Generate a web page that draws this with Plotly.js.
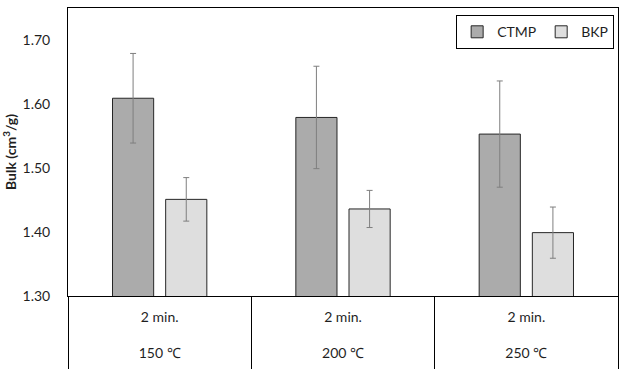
<!DOCTYPE html>
<html>
<head>
<meta charset="utf-8">
<script src="https://cdn.plot.ly/plotly-3.0.1.min.js"></script>
<style>html,body{margin:0;padding:0;background:#fff;}#chart{width:623px;height:373px;}</style>
</head>
<body>
<div id="chart"></div>
<script>
var temperatures = ["150 ℃", "200 ℃", "250 ℃"];
var times = ["2 min.", "2 min.", "2 min."];
var ctmpValues = [1.609, 1.579, 1.553];
var ctmpErrors = [0.070, 0.080, 0.083];
var bkpValues = [1.451, 1.436, 1.399];
var bkpErrors = [0.034, 0.029, 0.040];
var yTicks = [1.30, 1.40, 1.50, 1.60, 1.70];

var fontFam = "Lato, 'Open Sans', sans-serif";
var txtColor = "#1f1f1f";

var xTickText = temperatures.map(function(t, i){ return times[i] + "<br><br>" + t; });

var traces = [
  {
    type: "bar", name: "CTMP",
    x: temperatures, y: ctmpValues,
    marker: {color: "#ababab", line: {color: "#262626", width: 1}},
    error_y: {type: "data", array: ctmpErrors, visible: true, color: "#7f7f7f", thickness: 1, width: 3}
  },
  {
    type: "bar", name: "BKP",
    x: temperatures, y: bkpValues,
    marker: {color: "#dedede", line: {color: "#262626", width: 1}},
    error_y: {type: "data", array: bkpErrors, visible: true, color: "#7f7f7f", thickness: 1, width: 3}
  }
];

var layout = {
  width: 623, height: 373,
  margin: {l: 68, r: 5, t: 8, b: 77},
  paper_bgcolor: "#fff", plot_bgcolor: "#fff",
  font: {family: fontFam, size: 14, color: txtColor},
  barmode: "group",
  bargap: 0.42,
  bargroupgap: 0.226,
  showlegend: true,
  legend: {
    orientation: "h", x: 0.993, xanchor: "right", y: 0.975, yanchor: "top",
    bordercolor: "#000", borderwidth: 1, bgcolor: "#fff",
    font: {family: fontFam, size: 14, color: txtColor},
    itemwidth: 30, traceorder: "normal"
  },
  xaxis: {
    type: "category",
    range: [-0.5, 2.5],
    tickvals: temperatures,
    ticktext: xTickText,
    tickson: "boundaries",
    ticks: "outside", ticklen: 72, tickcolor: "#000", tickwidth: 1,
    ticklabelstandoff: 8,
    showline: true, linecolor: "#000", linewidth: 1, mirror: true,
    showgrid: false,
    tickfont: {family: fontFam, size: 14, color: txtColor}
  },
  yaxis: {
    range: [1.30, 1.75],
    tickvals: yTicks,
    ticktext: yTicks.map(function(v){return v.toFixed(2);}),
    showgrid: false, zeroline: false,
    showline: true, linecolor: "#000", linewidth: 1, mirror: true,
    ticks: "", ticklabelstandoff: 14,
    tickfont: {family: fontFam, size: 14, color: txtColor},
    title: {text: "<b>Bulk (cm<sup>3</sup>/g)</b>", standoff: 8, font: {family: fontFam, size: 14, color: txtColor}}
  }
};

Plotly.newPlot("chart", traces, layout, {displayModeBar: false, staticPlot: true});
</script>
</body>
</html>
